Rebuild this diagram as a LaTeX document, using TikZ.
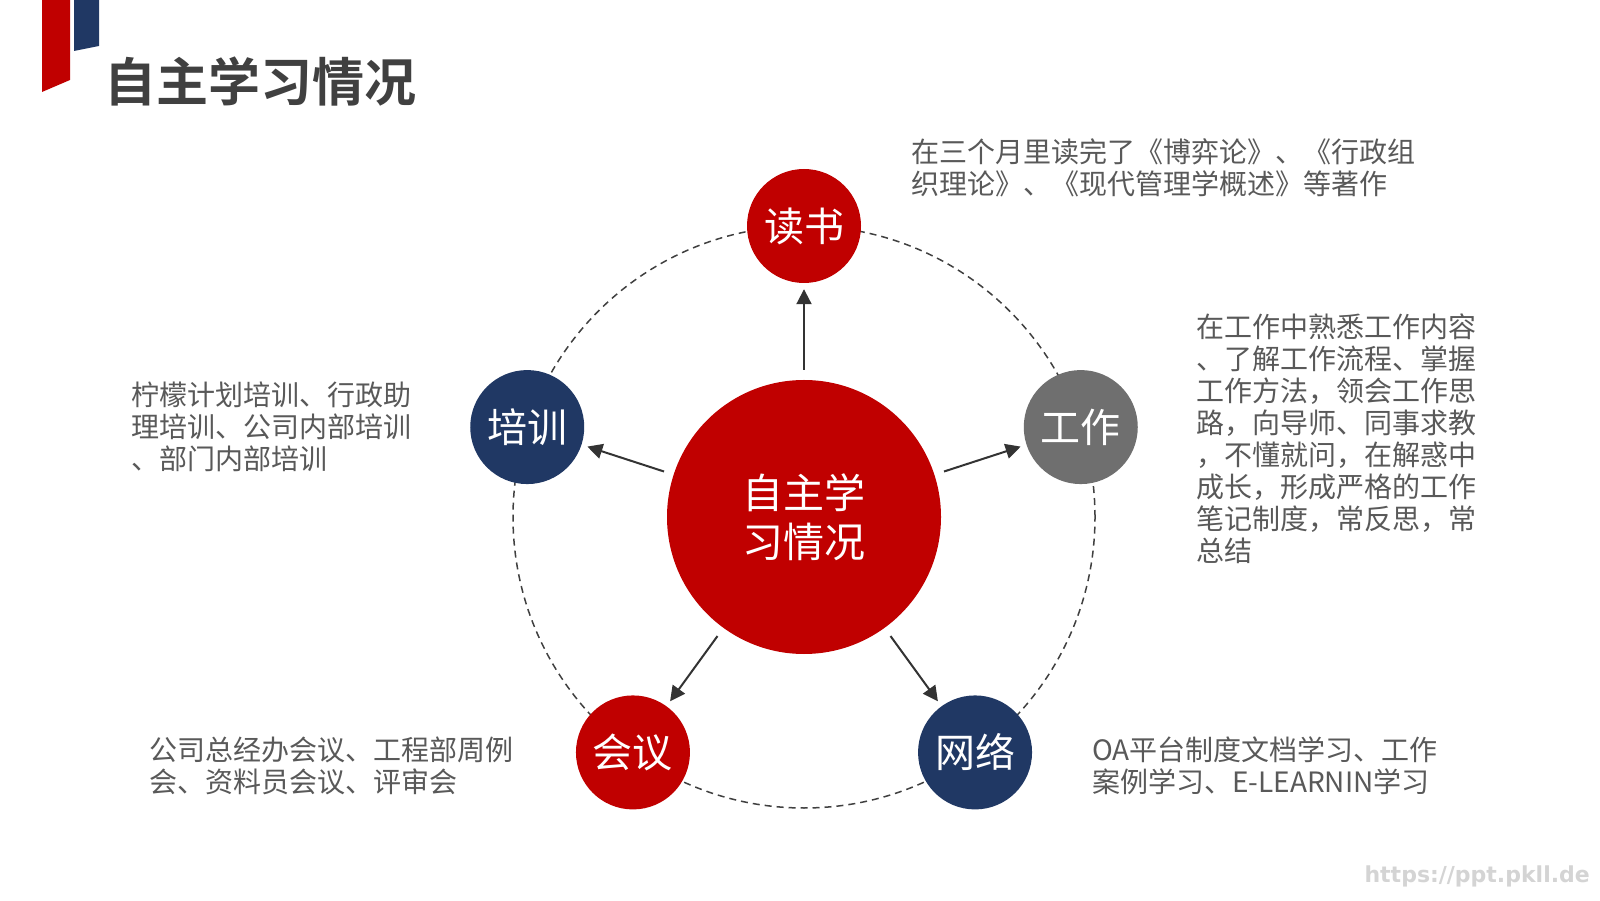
\documentclass[tikz,border=0pt]{standalone}
\usepackage{fontspec}
\setmainfont{Noto Sans CJK SC}[BoldFont={Noto Sans CJK SC Bold}]
\setsansfont{DejaVu Sans}
\usepackage{xcolor}
\usepackage{tikz}
\usetikzlibrary{arrows.meta}
\usetikzlibrary{calc}

\definecolor{pptred}{HTML}{C00000}
\definecolor{pptblue}{HTML}{203864}
\definecolor{pptgray}{HTML}{6F6F6F}
\definecolor{txtgray}{HTML}{595959}
\definecolor{titlegray}{HTML}{404040}

\tikzset{
  hub/.style={circle,fill=pptred,minimum size=274pt,inner sep=0pt,text=white,align=center,font=\fontsize{41}{49}\selectfont},
  spoke/.style={circle,minimum size=114pt,inner sep=0pt,text=white,font=\fontsize{40}{48}\selectfont},
  note/.style={anchor=west,inner sep=0pt,align=left,text=txtgray,font=\fontsize{28}{32}\selectfont},
  link/.style={draw=black!80,line width=2pt,-{Triangle[length=15pt,width=15pt]},shorten <=10pt,shorten >=6pt},
}

\begin{document}
\begin{tikzpicture}[x=1pt,y=1pt]
\useasboundingbox[fill=white] (0,0) rectangle (1600,900);

%corner flags
\fill[pptred] (42,900)--(70,900)--(70,820)--(42,808)--cycle;
\fill[pptblue] (74,900)--(99,900)--(99,854)--(74,849)--cycle;
\node[anchor=west,inner sep=0pt,text=titlegray,font=\fontsize{52}{60}\selectfont\bfseries] (title) at (104,818) {自主学习情况};

%ring
\coordinate (o) at (804,383);
\draw[black!75,line width=1.5pt,dash pattern=on 7pt off 5pt] (o) circle (291);

\node[hub] (zhu) at (o) {自主学\\习情况};
\node[spoke,fill=pptred] (dushu) at ($(o)+(90:291)$) {读书};
\node[spoke,fill=pptgray] (gongzuo) at ($(o)+(18:291)$) {工作};
\node[spoke,fill=pptblue] (wangluo) at ($(o)+(-54:291)$) {网络};
\node[spoke,fill=pptred] (huiyi) at ($(o)+(-126:291)$) {会议};
\node[spoke,fill=pptblue] (peixun) at ($(o)+(162:291)$) {培训};

\draw[link] (zhu)--(dushu);
\draw[link] (zhu)--(gongzuo);
\draw[link] (zhu)--(wangluo);
\draw[link] (zhu)--(huiyi);
\draw[link] (zhu)--(peixun);

%notes
\node[note] (dushutext) at (911,732) {在三个月里读完了《博弈论》、《行政组\\织理论》、《现代管理学概述》等著作};
\node[note] (gongzuotext) at (1196,461) {在工作中熟悉工作内容\\、了解工作流程、掌握\\工作方法，领会工作思\\路，向导师、同事求教\\，不懂就问，在解惑中\\成长，形成严格的工作\\笔记制度，常反思，常\\总结};
\node[note] (peixuntext) at (131,473) {柠檬计划培训、行政助\\理培训、公司内部培训\\、部门内部培训};
\node[note] (huiyitext) at (149,134) {公司总经办会议、工程部周例\\会、资料员会议、评审会};
\node[note] (wangluotext) at (1092,134) {OA平台制度文档学习、工作\\案例学习、E-LEARNIN学习};

\node[anchor=east,inner sep=0pt,text=black!17,font=\sffamily\bfseries\fontsize{22}{26}\selectfont] (mark) at (1590,24) {https://ppt.pkll.de};
\end{tikzpicture}
\end{document}
